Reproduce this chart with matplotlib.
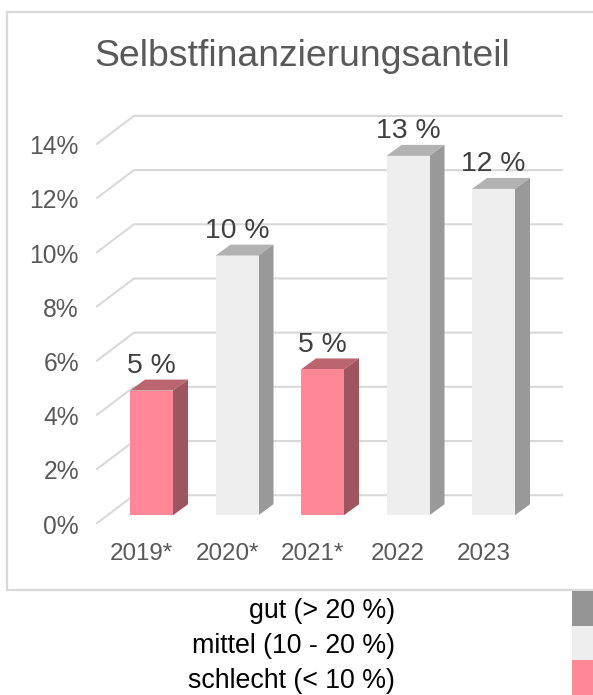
import matplotlib
matplotlib.use('Agg')
import matplotlib.pyplot as plt
from matplotlib.patches import Polygon, Rectangle

plt.rcParams['font.family'] = ['Liberation Sans']

# Daten
years = ['2019*', '2020*', '2021*', '2022', '2023']
values = [4.6, 9.58, 5.38, 13.26, 12.04]
value_labels = ['5 %', '10 %', '5 %', '13 %', '12 %']
ratings = ['schlecht', 'mittel', 'schlecht', 'mittel', 'mittel']
y_ticks = [0, 2, 4, 6, 8, 10, 12, 14]
legend_labels = ['gut (> 20 %)', 'mittel (10 - 20 %)', 'schlecht (< 10 %)']
legend_colors = ['#959595', '#eeeeee', '#ff8796']

# front, top, side
colors = {
    'schlecht': ('#ff8796', '#bb6570', '#9e5560'),
    'mittel': ('#eeeeee', '#b2b2b2', '#999999'),
}

W, H = 593, 695
PX_X = 85.5      # Pixel pro Kategorie
PX_Y = 27.15     # Pixel pro Prozent
bar_w = 43 / PX_X
depth_x = 15 / PX_X
depth_y = 11 / PX_Y
back_x = 37 / PX_X
back_y = 28 / PX_Y

fig = plt.figure(figsize=(W / 100, H / 100), dpi=100)

# Rahmen und Legende direkt in Figurenkoordinaten
bg = fig.add_axes([0, 0, 1, 1])
bg.set_xlim(0, W)
bg.set_ylim(H, 0)
bg.axis('off')
bg.add_patch(Rectangle((7, 12), W, 578, fc='white', ec='#d9d9d9', lw=1.6))
for i in range(3):
    bg.add_patch(Rectangle((572, 591 + i * 34.7), 21, 34.7, fc=legend_colors[i], ec='none'))
    bg.text(395, 611 + i * 35.2, legend_labels[i], ha='right', va='center', fontsize=19.3, color='black')
bg.text(302, 57, 'Selbstfinanzierungsanteil', ha='center', va='center', fontsize=26.9, color='#595959')

# Diagramm: x = Kategorie, y = Prozent auf der Ebene der Balken
left, right, top, bottom = 97, 562, 100, 524
ax = fig.add_axes([left / W, 1 - bottom / H, (right - left) / W, (bottom - top) / H])
ax.patch.set_alpha(0)
ax.set_xlim((left - 151.5) / PX_X, (right - 151.5) / PX_X)
ax.set_ylim((516 - bottom) / PX_Y, (516 - top) / PX_Y)
for s in ax.spines.values():
    s.set_visible(False)

front_x = (left - 151.5) / PX_X
front_off = 8 / PX_Y
for t in y_ticks:
    # Gitter: hinten waagerecht, schraeg nach vorne
    y_back = t - front_off + back_y
    ax.plot([front_x, front_x + back_x, (right - 151.5) / PX_X], [t - front_off, y_back, y_back],
            color='#d9d9d9', lw=1.5, clip_on=False, zorder=1)

ax.set_yticks([t - front_off - 0.03 for t in y_ticks])
ax.set_yticklabels([f'{t}%' for t in y_ticks], fontsize=17.7, color='#595959')
ax.set_xticks([i - 0.115 for i in range(len(years))])
ax.set_xticklabels(years, fontsize=17.4, color='#595959')
ax.tick_params(axis='y', length=0, pad=13)
ax.tick_params(axis='x', length=0, pad=14)

for i, v in enumerate(values):
    c_front, c_top, c_side = colors[ratings[i]]
    x0 = i - bar_w / 2
    x1 = i + bar_w / 2
    ax.add_patch(Polygon([(x0, v), (x0 + depth_x, v + depth_y), (x1 + depth_x, v + depth_y), (x1, v)],
                         fc=c_top, ec='none', zorder=2))
    ax.add_patch(Polygon([(x1, 0), (x1 + depth_x, depth_y), (x1 + depth_x, v + depth_y), (x1, v)],
                         fc=c_side, ec='none', zorder=2))
    ax.bar(i, v, width=bar_w, color=c_front, zorder=3)
    ax.text(i, v + depth_y + 0.02, value_labels[i], ha='center', va='bottom',
            fontsize=20.4, color='#404040', zorder=4)

fig.savefig('out.png', dpi=100)
